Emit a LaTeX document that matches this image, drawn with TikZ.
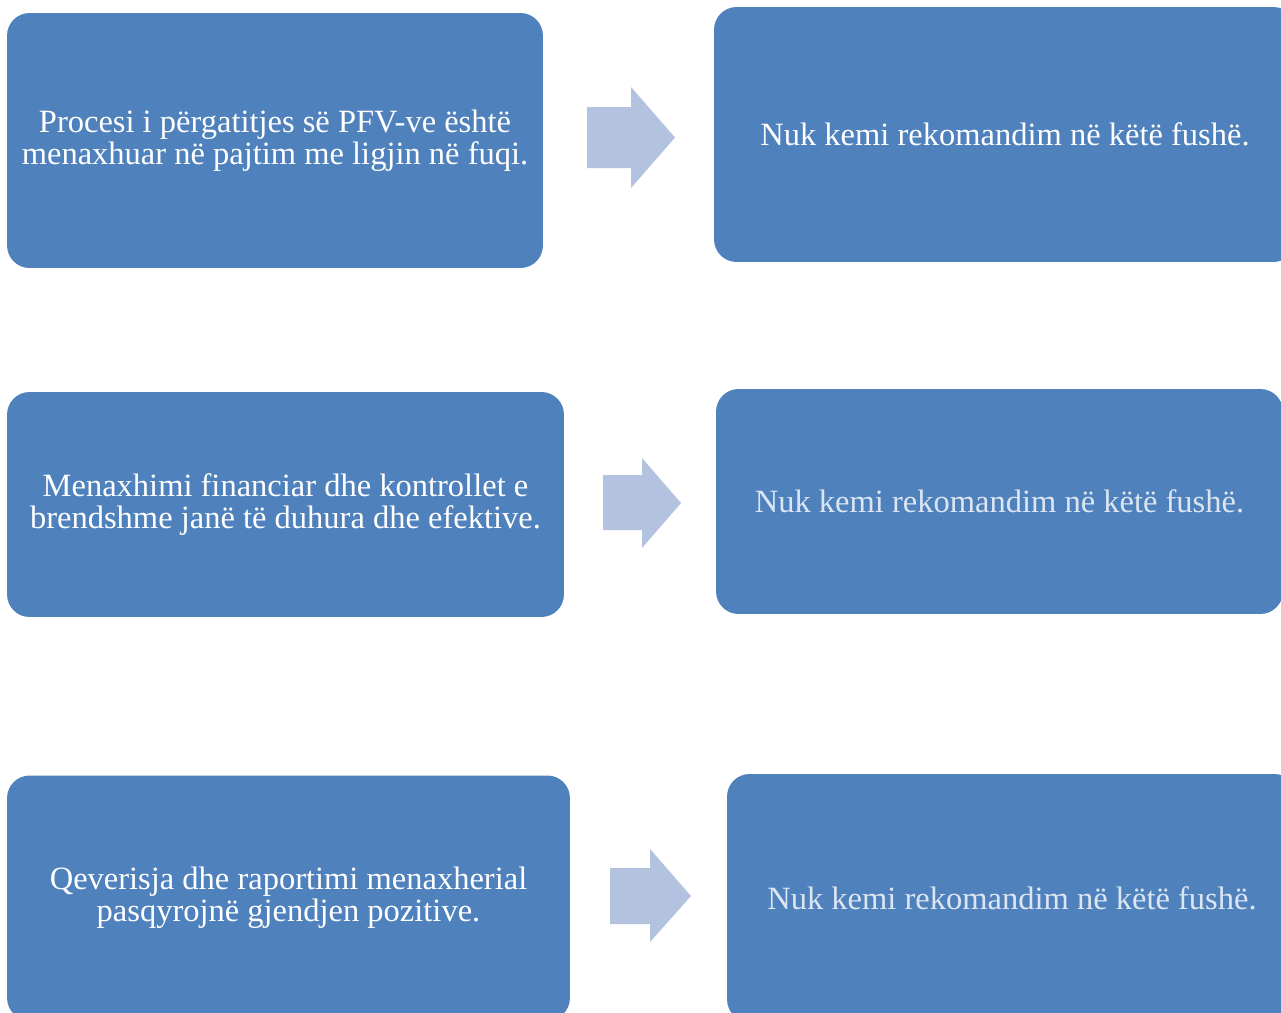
\documentclass[tikz,border=0pt]{standalone}
\usepackage{fontspec}
\setmainfont{Liberation Serif}
\usepackage{tikz}
\usetikzlibrary{positioning}
\definecolor{boxblue}{HTML}{4F81BD}
\definecolor{arrowblue}{HTML}{B3C2DE}
\definecolor{paletext}{HTML}{DCE6F2}
\tikzset{
  findbox/.style={rectangle, rounded corners=0.45cm, fill=boxblue, draw=none,
    text=white, align=center, inner sep=0pt,
    font=\fontsize{18.5}{18.2}\selectfont},
  answerbox/.style={findbox, text=paletext},
  blockarrow/.style={fill=arrowblue, draw=none}
}

\begin{document}
\begin{tikzpicture}[x=0.02cm, y=-0.02cm]
    \useasboundingbox (0,0) rectangle (1281,1012);
    \clip (0,0) rectangle (1281,1012);

    % left column: findings
    \node[findbox, minimum width=10.72cm, minimum height=5.1cm] (find1) at (275,140.5)
        {Procesi i përgatitjes së PFV-ve është\\menaxhuar në pajtim me ligjin në fuqi.};
    \node[findbox, minimum width=11.14cm, minimum height=4.5cm] (find2) at (285.5,504.5)
        {Menaxhimi financiar dhe kontrollet e\\brendshme janë të duhura dhe efektive.};
    \node[findbox, minimum width=11.26cm, minimum height=4.9cm] (find3) at (288.5,898)
        {Qeverisja dhe raportimi menaxherial\\pasqyrojnë gjendjen pozitive.};

    % right column: recommendations
    \node[findbox, minimum width=11.64cm, minimum height=5.1cm] (rec1) at (1005,134.5)
        {Nuk kemi rekomandim në këtë fushë.};
    \node[answerbox, minimum width=11.34cm, minimum height=4.5cm] (rec2) at (999.5,501.5)
        {Nuk kemi rekomandim në këtë fushë.};
    \node[answerbox, minimum width=11.4cm, minimum height=4.96cm] (rec3) at (1012,898)
        {Nuk kemi rekomandim në këtë fushë.};

    % block arrows: tail x, head x, tip x, shaft top, shaft bottom, head top, head bottom, tip y
    \foreach \tx/\hx/\px/\st/\sb/\ht/\hb/\py in
        {587/631/675/107/168/87/188/137.5,
         603/642/681/475/530/458/548/503,
         610/650/691/868/924/849/942/896}
      \fill[blockarrow] (\tx,\st) -- (\hx,\st) -- (\hx,\ht) -- (\px,\py)
          -- (\hx,\hb) -- (\hx,\sb) -- (\tx,\sb) -- cycle;
\end{tikzpicture}
\end{document}
